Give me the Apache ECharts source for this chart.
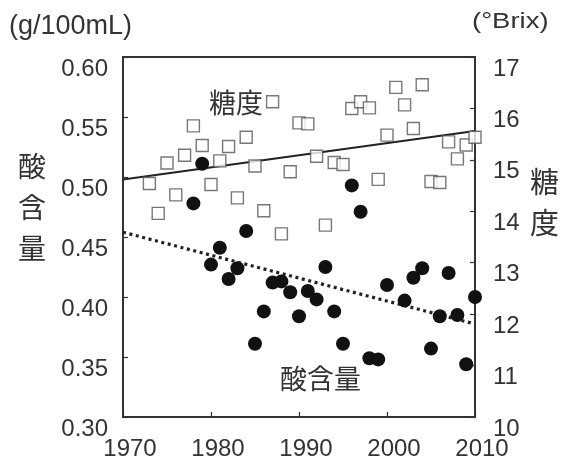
<!DOCTYPE html>
<html>
<head>
<meta charset="utf-8">
<script src="https://cdn.jsdelivr.net/npm/echarts@6/dist/echarts.min.js"></script>
<style>html,body{margin:0;padding:0;background:#fff;}#c{width:563px;height:464px;}</style>
</head>
<body>
<div id="c"></div>
<script>
// Sugar content (°Brix) – open squares
var sugarYears = [1973,1974,1975,1976,1977,1978,1979,1980,1981,1982,1983,1984,1985,1986,1987,1988,1989,1990,1991,1992,1993,1994,1995,1996,1997,1998,1999,2000,2001,2002,2003,2004,2005,2006,2007,2008,2009,2010];
var sugarBrix  = [14.54,13.96,14.94,14.32,15.09,15.66,15.28,14.52,14.98,15.26,14.26,15.44,14.88,14.01,16.13,13.56,14.77,15.72,15.70,15.07,13.73,14.95,14.91,16.00,16.13,16.01,14.62,15.48,16.41,16.07,15.61,16.46,14.58,14.56,15.35,15.02,15.29,15.44];
// Acid content (g/100mL) – filled circles
var acidYears  = [1978,1979,1980,1981,1982,1983,1984,1985,1986,1987,1988,1989,1990,1991,1992,1993,1994,1995,1996,1997,1998,1999,2000,2002,2003,2004,2005,2006,2007,2008,2009,2010];
var acidValues = [0.478,0.511,0.427,0.441,0.415,0.424,0.455,0.361,0.388,0.412,0.413,0.404,0.384,0.405,0.398,0.425,0.388,0.361,0.493,0.471,0.349,0.348,0.410,0.397,0.416,0.424,0.357,0.384,0.420,0.385,0.344,0.400];
// Trend lines (endpoints)
var trendYears = [1970, 2010];
var sugarTrend = [14.62, 15.56];
var acidTrend  = [0.454, 0.3775];
// Axis ticks
var xTicks = [1970, 1980, 1990, 2000, 2010];
var leftTicks = [0.30, 0.35, 0.40, 0.45, 0.50, 0.55, 0.60];
var rightTicks = [10, 11, 12, 13, 14, 15, 16, 17];

function pairs(xs, ys){ return xs.map(function(x,i){ return [x, ys[i]]; }); }

var latin = '"Liberation Sans", Arial, sans-serif';
var cjk = '"Noto Sans CJK JP", sans-serif';
var txt = '#333';

var chart = echarts.init(document.getElementById('c'), null, {renderer:'canvas'});
chart.setOption({
  animation: false,
  backgroundColor: '#fff',
  grid: {left: 123, right: 88, top: 57, bottom: 47, show: true, borderColor: '#333', borderWidth: 2, backgroundColor: 'transparent'},
  xAxis: {
    type: 'value', min: xTicks[0], max: xTicks[xTicks.length-1], interval: 10,
    axisLine: {show: false},
    axisTick: {show: true, inside: true, length: 5, lineStyle: {color: '#333', width: 1.2}},
    splitLine: {show: false},
    axisLabel: {color: txt, fontSize: 24, fontFamily: latin, margin: 20, padding: [0,0,0,14], formatter: function(v){ return String(v); }}
  },
  yAxis: [{
    type: 'value', min: leftTicks[0], max: leftTicks[leftTicks.length-1], interval: 0.05,
    axisLine: {show: false},
    axisTick: {show: true, inside: true, length: 5, lineStyle: {color: '#333', width: 1.2}},
    splitLine: {show: false},
    axisLabel: {color: txt, fontSize: 24, fontFamily: latin, margin: 15, verticalAlign: 'top', formatter: function(v){ return v.toFixed(2); }}
  },{
    type: 'value', min: rightTicks[0], max: rightTicks[rightTicks.length-1], interval: 1,
    axisLine: {show: false},
    axisTick: {show: true, inside: true, length: 5, lineStyle: {color: '#333', width: 1.2}},
    splitLine: {show: false},
    axisLabel: {color: txt, fontSize: 24, fontFamily: latin, margin: 18, verticalAlign: 'top'}
  }],
  series: [
    {type: 'line', yAxisIndex: 1, data: pairs(trendYears, sugarTrend), symbol: 'none', lineStyle: {color: '#222', width: 2}, z: 2},
    {type: 'line', yAxisIndex: 0, data: pairs(trendYears, acidTrend), symbol: 'none', lineStyle: {color: '#222', width: 3.2, type: [3, 3.6]}, z: 2},
    {type: 'scatter', yAxisIndex: 1, data: pairs(sugarYears, sugarBrix), symbol: 'rect', symbolSize: 12,
      itemStyle: {color: '#fff', borderColor: '#555', borderWidth: 1.4}, z: 3},
    {type: 'scatter', yAxisIndex: 0, data: pairs(acidYears, acidValues), symbol: 'circle', symbolSize: 14,
      itemStyle: {color: '#111', borderColor: '#111', borderWidth: 0, opacity: 1}, z: 4}
  ],
  graphic: [
    {type: 'text', left: 9, top: 13, style: {text: '(g/100mL)', fontSize: 27, fontFamily: latin, fill: txt}},
    {type: 'text', x: 472, y: 10, scaleX: 1.22, style: {text: '(°Brix)', fontSize: 22.5, fontFamily: latin, fill: txt}},
    {type: 'text', left: 18, top: 146, style: {text: '酸\n含\n量', fontSize: 28, lineHeight: 41, fontFamily: cjk, fill: txt}},
    {type: 'text', left: 530, top: 161, style: {text: '糖\n度', fontSize: 29, lineHeight: 41, fontFamily: cjk, fill: txt}},
    {type: 'text', left: 209, top: 89, style: {text: '糖度', fontSize: 27, fontFamily: cjk, fill: txt}, z: 10},
    {type: 'text', left: 280, top: 365, style: {text: '酸含量', fontSize: 27, fontFamily: cjk, fill: txt}, z: 10}
  ]
});
</script>
</body>
</html>
